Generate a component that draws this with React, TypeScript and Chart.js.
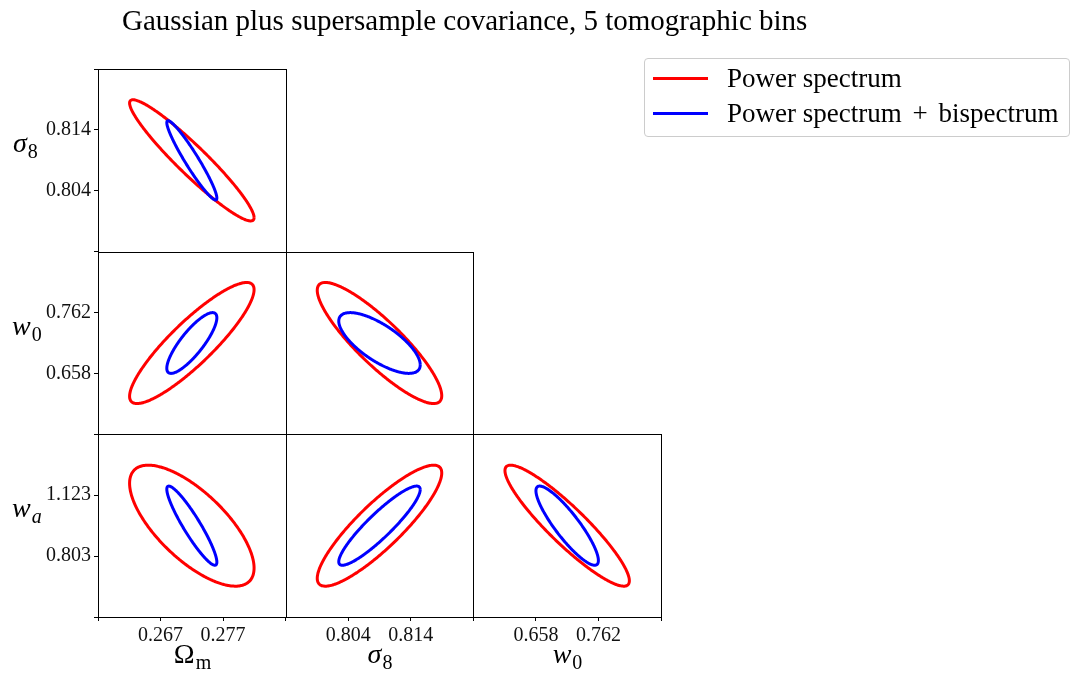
import React, { useEffect, useRef } from 'react';
import { Chart, registerables } from 'chart.js';

Chart.register(...registerables);

const FONT = "'Liberation Serif', 'DejaVu Serif', serif";

// ---- Parameters (order: Omega_m, sigma_8, w_0, w_a) ----
const fiducials = [0.272, 0.809, 0.71, 0.963];

const tickValuesOm = [0.257, 0.267, 0.277, 0.287];
const tickValuesS8 = [0.794, 0.804, 0.814, 0.824];
const tickValuesW0 = [0.554, 0.658, 0.762, 0.866];
const tickValuesWa = [0.483, 0.803, 1.123, 1.443];

const tickLabelsOm = ['', '0.267', '0.277', ''];
const tickLabelsS8 = ['', '0.804', '0.814', ''];
const tickLabelsW0 = ['', '0.658', '0.762', ''];
const tickLabelsWa = ['', '0.803', '1.123', ''];

const tickValues = [tickValuesOm, tickValuesS8, tickValuesW0, tickValuesWa];
const tickLabels = [tickLabelsOm, tickLabelsS8, tickLabelsW0, tickLabelsWa];

// contour half-extents along each parameter
const extentPower = [0.00995, 0.00995, 0.1034, 0.318];
const extentPowerBispec = [0.004, 0.00651, 0.0519, 0.208];

// panels (lower triangle): x parameter, y parameter
const panelX = [0, 0, 1, 0, 1, 2];
const panelY = [1, 2, 2, 3, 3, 3];
const rhoPower = [-0.945, 0.88, -0.87, -0.7, 0.87, -0.91];
const rhoPowerBispec = [-0.95, 0.83, -0.72, -0.92, 0.91, -0.88];

const seriesLabels = ['Power spectrum', 'Power spectrum + bispectrum'];
const seriesColors = ['#ff0000', '#0000ff'];

const labelMain = ['Ω', 'σ', 'w', 'w'];
const labelSub = ['m', '8', '0', 'a'];
const labelMainItalic = [false, true, true, true];
const labelSubItalic = [false, false, false, true];

const titleText = 'Gaussian plus supersample covariance, 5 tomographic bins';

function contour(panel: number, ext: number[], rho: number) {
  const xi = panelX[panel];
  const yi = panelY[panel];
  const s = Math.sqrt(1 - rho * rho);
  const n = 240;
  const pts: { x: number; y: number }[] = [];
  for (let k = 0; k <= n; k++) {
    const t = (2 * Math.PI * k) / n;
    pts.push({
      x: fiducials[xi] + ext[xi] * Math.cos(t),
      y: fiducials[yi] + ext[yi] * (rho * Math.cos(t) + s * Math.sin(t)),
    });
  }
  return pts;
}

function makeScale(p: number, pos: 'left' | 'bottom', weight: number) {
  const vals = tickValues[p];
  const labs = tickLabels[p];
  return {
    type: 'linear',
    position: pos,
    stack: pos === 'left' ? 'ys' : 'xs',
    stackWeight: 1,
    weight,
    min: vals[0],
    max: vals[vals.length - 1],
    afterBuildTicks: (scale: any) => {
      scale.ticks = vals.map((v) => ({ value: v }));
    },
    afterFit: (scale: any) => {
      if (pos === 'left') scale.width = 98;
      else scale.height = 60;
    },
    ticks: {
      autoSkip: false,
      maxRotation: 0,
      minRotation: 0,
      padding: 3,
      color: '#111',
      font: { family: FONT, size: 20 },
      callback: (_v: any, i: number) => labs[i],
    },
    grid: {
      display: true,
      drawOnChartArea: false,
      drawTicks: true,
      tickLength: 4,
      color: '#000',
      lineWidth: 1,
    },
    border: { display: true, color: '#000', width: 1 },
  };
}

const framePlugin = {
  id: 'panelFrames',
  afterDraw(chart: any) {
    const ctx = chart.ctx;
    ctx.save();
    ctx.strokeStyle = '#000';
    ctx.lineWidth = 1;
    for (let i = 0; i < panelX.length; i++) {
      const xs = chart.scales['x' + panelX[i]];
      const ys = chart.scales['y' + panelY[i]];
      const l = Math.round(xs.left) + 0.5;
      const r = Math.round(xs.right) + 0.5;
      const t = Math.round(ys.top) + 0.5;
      const b = Math.round(ys.bottom) + 0.5;
      ctx.strokeRect(l, t, r - l, b - t);
    }
    ctx.restore();
  },
};

function MathLabel(props: { p: number; left?: number; center?: number; baseline: number }) {
  const { p, left, center, baseline } = props;
  const size = 28;
  const style: any = {
    position: 'absolute',
    top: baseline - 0.8375 * size,
    fontFamily: FONT,
    fontSize: size,
    lineHeight: 1,
    whiteSpace: 'nowrap',
    color: '#000',
  };
  if (center !== undefined) {
    style.left = center;
    style.transform = 'translateX(-50%)';
  } else {
    style.left = left;
  }
  return (
    <div style={style}>
      <span style={{ fontStyle: labelMainItalic[p] ? 'italic' : 'normal' }}>{labelMain[p]}</span>
      <span
        style={{
          fontSize: 20,
          fontStyle: labelSubItalic[p] ? 'italic' : 'normal',
          position: 'relative',
          top: 6,
          marginLeft: 1,
        }}
      >
        {labelSub[p]}
      </span>
    </div>
  );
}

function LegendText(props: { text: string }) {
  const parts = props.text.split(' + ');
  if (parts.length === 1) return <>{props.text}</>;
  return (
    <>
      {parts[0]}
      <span style={{ margin: '0 4px' }}> + </span>
      {parts[1]}
    </>
  );
}

export default function App() {
  const canvasRef = useRef<HTMLCanvasElement | null>(null);

  useEffect(() => {
    const datasets: any[] = [];
    for (let i = 0; i < panelX.length; i++) {
      datasets.push({
        label: seriesLabels[0],
        data: contour(i, extentPower, rhoPower[i]),
        xAxisID: 'x' + panelX[i],
        yAxisID: 'y' + panelY[i],
        borderColor: seriesColors[0],
        borderWidth: 3,
        showLine: true,
        pointRadius: 0,
        fill: false,
        tension: 0.3,
        order: 2,
      });
      datasets.push({
        label: seriesLabels[1],
        data: contour(i, extentPowerBispec, rhoPowerBispec[i]),
        xAxisID: 'x' + panelX[i],
        yAxisID: 'y' + panelY[i],
        borderColor: seriesColors[1],
        borderWidth: 3,
        showLine: true,
        pointRadius: 0,
        fill: false,
        tension: 0.3,
        order: 1,
      });
    }
    const chart = new Chart(canvasRef.current as HTMLCanvasElement, {
      type: 'scatter',
      data: { datasets },
      options: {
        animation: false,
        responsive: false,
        devicePixelRatio: 1,
        layout: { padding: { left: 0, top: 69, right: 422, bottom: 0 } },
        plugins: { legend: { display: false }, tooltip: { enabled: false }, title: { display: false } },
        scales: {
          x0: makeScale(0, 'bottom', 1),
          x1: makeScale(1, 'bottom', 2),
          x2: makeScale(2, 'bottom', 3),
          y1: makeScale(1, 'left', 3),
          y2: makeScale(2, 'left', 2),
          y3: makeScale(3, 'left', 1),
        },
      } as any,
      plugins: [framePlugin],
    });
    return () => chart.destroy();
  }, []);

  const legendFont = 27;
  return (
    <div style={{ position: 'absolute', left: 0, top: 0, width: 1083, height: 677, background: '#fff', overflow: 'hidden' }}>
      <canvas ref={canvasRef} width={1083} height={677} style={{ position: 'absolute', left: 0, top: 0 }} />
      <div
        style={{
          position: 'absolute',
          left: 122,
          top: 30 - 0.8375 * 29,
          fontFamily: FONT,
          fontSize: 29,
          lineHeight: 1,
          whiteSpace: 'nowrap',
          color: '#000',
        }}
      >
        {titleText}
      </div>
      <MathLabel p={1} left={13} baseline={152} />
      <MathLabel p={2} left={12} baseline={335} />
      <MathLabel p={3} left={12} baseline={517} />
      <MathLabel p={0} center={192.5} baseline={663} />
      <MathLabel p={1} center={380} baseline={663} />
      <MathLabel p={2} center={567.5} baseline={663} />
      <div
        style={{
          position: 'absolute',
          left: 644,
          top: 58,
          width: 426,
          height: 79,
          border: '1px solid #cccccc',
          borderRadius: 4,
          boxSizing: 'border-box',
        }}
      />
      {seriesLabels.map((lab, k) => (
        <React.Fragment key={k}>
          <div
            style={{
              position: 'absolute',
              left: 653,
              top: [78.3, 113.3][k] - 1.5,
              width: 55,
              height: 3,
              background: seriesColors[k],
            }}
          />
          <div
            style={{
              position: 'absolute',
              left: 727,
              top: [87.3, 122.7][k] - 0.8375 * legendFont,
              fontFamily: FONT,
              fontSize: legendFont,
              lineHeight: 1,
              whiteSpace: 'nowrap',
              color: '#000',
            }}
          >
            <LegendText text={lab} />
          </div>
        </React.Fragment>
      ))}
    </div>
  );
}
